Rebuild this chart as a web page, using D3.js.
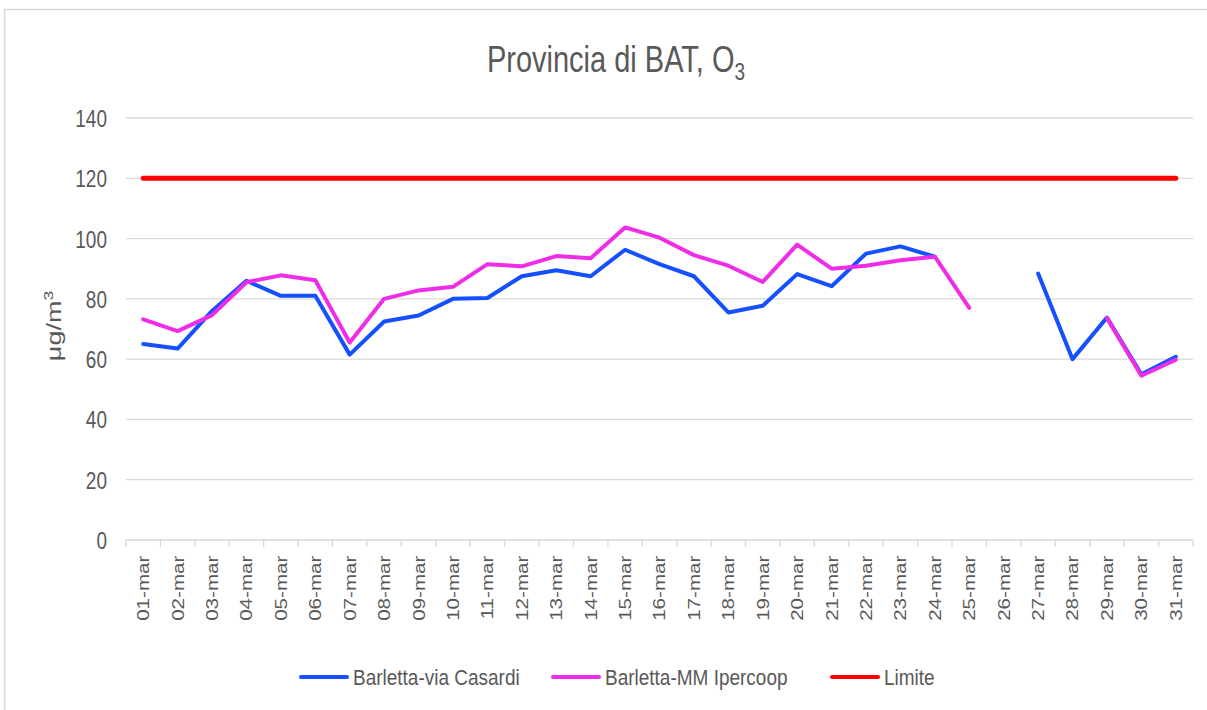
<!DOCTYPE html>
<html>
<head>
<meta charset="utf-8">
<script src="https://cdn.jsdelivr.net/npm/d3@7"></script>
<style>
  body { margin: 0; background: #fff; }
  svg text { font-family: "Liberation Sans", Arial, sans-serif; fill: #595959; }
</style>
</head>
<body>
<div id="chart"></div>
<script>
// days of March
const days = d3.range(1, 32).map(d => String(d).padStart(2, "0") + "-mar");

// Barletta-via Casardi (null = missing)
const casardi = [65, 63.5, 76, 86, 81, 81, 61.5, 72.5, 74.5, 80, 80.3, 87.5, 89.5, 87.5, 96.3,
  91.5, 87.5, 75.5, 77.7, 88.2, 84.2, 95, 97.4, 94, null, null, 88.4, 60, 73.8, 55, 60.8];

// Barletta-MM Ipercoop
const ipercoop = [73.2, 69.3, 74.6, 85.5, 87.8, 86.2, 65.5, 80, 82.8, 84, 91.5, 90.8, 94.2, 93.5, 103.7,
  100.3, 94.5, 91, 85.6, 98, 90, 91, 92.8, 94, 77, null, null, null, 73.6, 54.5, 59.8];

// Limite
const limite = days.map(() => 120);

const yTicks = [0, 20, 40, 60, 80, 100, 120, 140];

const series = [
  {name: "Barletta-via Casardi", values: casardi, color: "#1450ff", width: 4},
  {name: "Barletta-MM Ipercoop", values: ipercoop, color: "#f02de6", width: 4},
  {name: "Limite", values: limite, color: "#ff0000", width: 5}
];

const width = 1207, height = 710;
const margin = {left: 126, right: 14, top: 118, bottom: 170};
const stretch = 1.25; // text in the original is drawn taller than wide

const svg = d3.select("#chart").append("svg")
  .attr("width", width)
  .attr("height", height);

// chart frame
svg.append("rect")
  .attr("x", 4.5).attr("y", 9.5)
  .attr("width", 1220).attr("height", 720)
  .attr("fill", "none")
  .attr("stroke", "#d9d9d9")
  .attr("stroke-width", 1.5);

const x = d3.scaleBand()
  .domain(days)
  .range([margin.left, width - margin.right]);

const y = d3.scaleLinear()
  .domain([0, 140])
  .range([height - margin.bottom, margin.top]);

// gridlines
svg.append("g")
  .selectAll("line")
  .data(yTicks)
  .join("line")
  .attr("x1", margin.left)
  .attr("x2", width - margin.right)
  .attr("y1", d => y(d))
  .attr("y2", d => y(d))
  .attr("stroke", "#d9d9d9")
  .attr("stroke-width", 1.3);

// y labels
const yAxis = svg.append("g")
  .attr("transform", `translate(${margin.left - 19},0)`)
  .call(d3.axisLeft(y).tickValues(yTicks).tickSize(0).tickPadding(0));
yAxis.select(".domain").remove();
yAxis.selectAll("text")
  .style("font-size", "19px")
  .attr("x", 0)
  .attr("dy", "0.36em")
  .attr("transform", `scale(1, ${stretch})`);

// y title
svg.append("text")
  .attr("transform", `translate(61, ${y(71)}) rotate(-90) scale(1.35, 1)`)
  .attr("text-anchor", "middle")
  .style("font-size", "20px")
  .html('μg/m<tspan dy="-8" font-size="13px">3</tspan>');

// x tick marks between categories
const edges = days.map(d => x(d)).concat([width - margin.right]);
svg.append("g")
  .selectAll("line")
  .data(edges)
  .join("line")
  .attr("x1", d => d)
  .attr("x2", d => d)
  .attr("y1", y(0))
  .attr("y2", y(0) + 7)
  .attr("stroke", "#d9d9d9")
  .attr("stroke-width", 1.3);

// x labels
const xAxis = svg.append("g")
  .attr("transform", `translate(0, ${y(0)})`)
  .call(d3.axisBottom(x).tickSize(0).tickPadding(0));
xAxis.select(".domain").remove();
xAxis.selectAll("text")
  .style("font-size", "16.5px")
  .attr("text-anchor", "end")
  .attr("transform", `rotate(-90) scale(${stretch}, 1)`)
  .attr("x", -12.5)
  .attr("y", 0)
  .attr("dy", "0.36em");

// lines
const line = d3.line()
  .defined(d => d.v != null)
  .x(d => x(d.day) + x.bandwidth() / 2)
  .y(d => y(d.v));

svg.append("g")
  .selectAll("path")
  .data(series)
  .join("path")
  .attr("d", s => line(s.values.map((v, i) => ({day: days[i], v: v}))))
  .attr("fill", "none")
  .attr("stroke", s => s.color)
  .attr("stroke-width", s => s.width)
  .attr("stroke-linejoin", "round")
  .attr("stroke-linecap", "round");

// title
svg.append("text")
  .attr("transform", `translate(616, 72) scale(1, 1.3)`)
  .attr("text-anchor", "middle")
  .style("font-size", "29px")
  .html('Provincia di BAT, O<tspan dy="6" font-size="19px">3</tspan>');

// legend
const legendX = [300, 552, 831];
const legend = svg.append("g")
  .selectAll("g")
  .data(series)
  .join("g")
  .attr("transform", (d, i) => `translate(${legendX[i]}, 677)`);

legend.append("line")
  .attr("x1", 1).attr("x2", 47)
  .attr("stroke", d => d.color)
  .attr("stroke-width", 4)
  .attr("stroke-linecap", "round");

legend.append("text")
  .attr("x", 53)
  .attr("transform", `scale(1, 1.2)`)
  .attr("dy", "0.36em")
  .style("font-size", "19px")
  .text(d => d.name);
</script>
</body>
</html>
